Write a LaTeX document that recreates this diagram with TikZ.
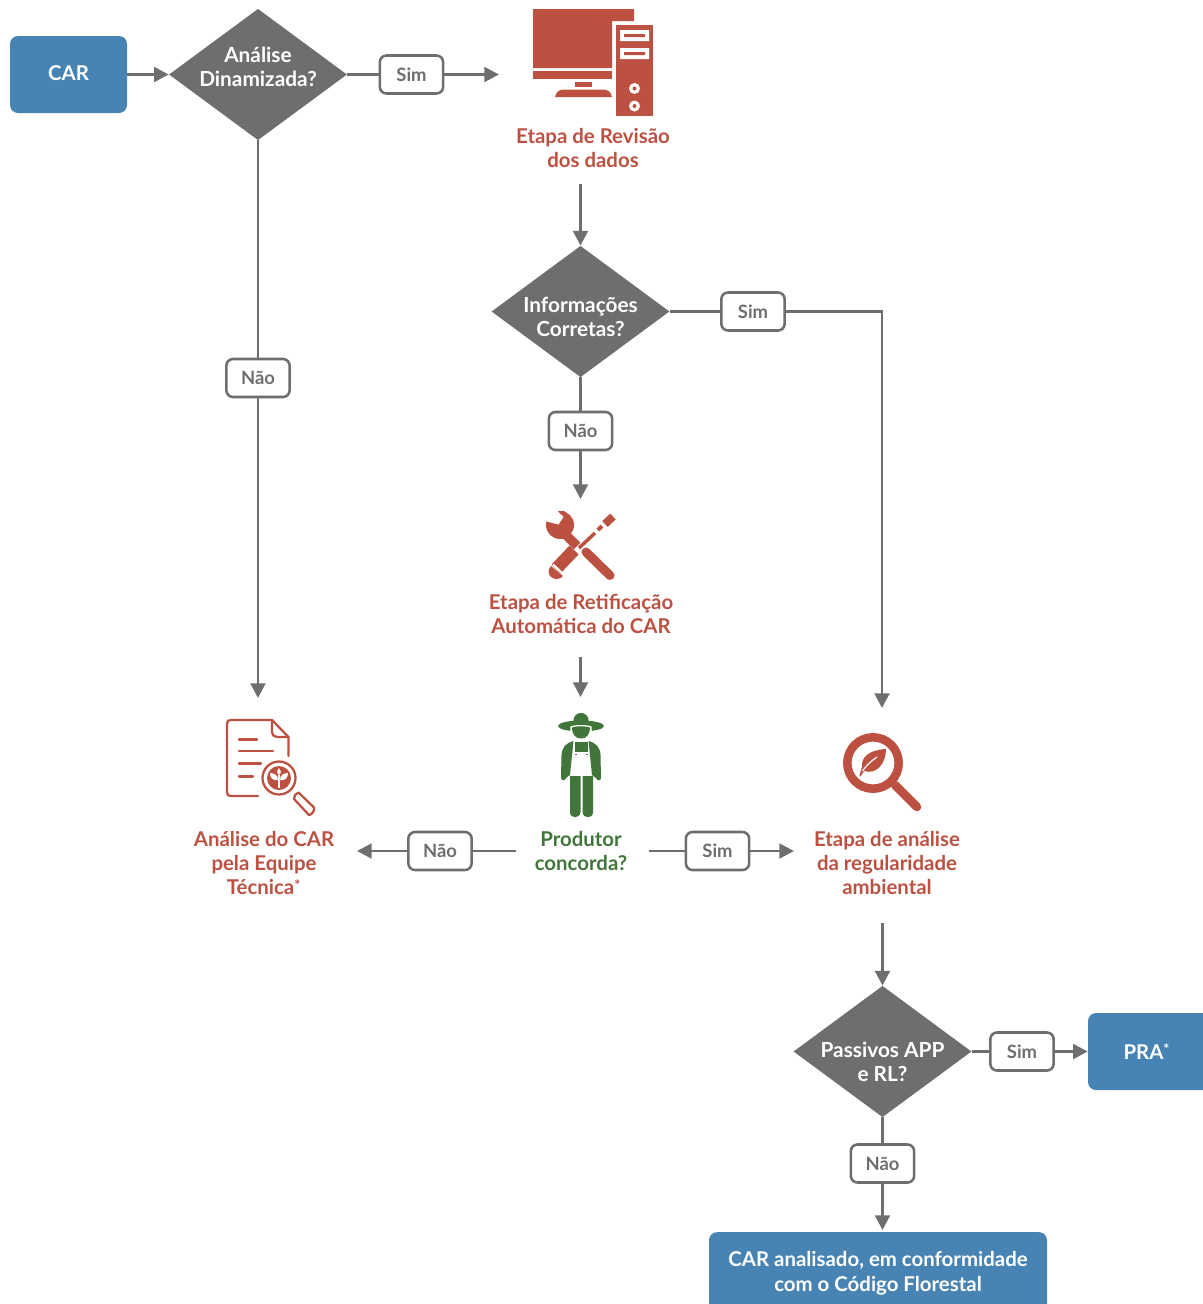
\documentclass[tikz,border=0pt]{standalone}
\usepackage{fontspec}
\setmainfont{Lato}
\usetikzlibrary{arrows.meta,shapes.geometric}
\definecolor{cblue}{HTML}{4784B4}
\definecolor{cgray}{HTML}{6D6E70}
\definecolor{cred}{HTML}{BC5142}
\definecolor{cgreen}{HTML}{41763B}
\newcommand{\starmark}{\textsuperscript{\raisebox{-2pt}{*}}}
\tikzset{
  x=0.75pt,y=-0.75pt,
  txt/.style={font=\fontsize{15.3}{18}\selectfont\bfseries,align=center,inner sep=0pt},
  capred/.style={txt,text=cred},
  capgreen/.style={txt,text=cgreen},
  bluebox/.style={txt,fill=cblue,text=white,rounded corners=6pt},
  decision/.style 2 args={diamond,fill=cgray,inner sep=0pt,aspect=1.35,minimum width=133.5pt,minimum height=98.5pt,
    label={[txt,font=\fontsize{15.6}{18}\selectfont\bfseries,text=white,yshift=#2]center:{#1}}},
  tag/.style={txt,font=\fontsize{13.8}{16}\selectfont\bfseries,text=cgray,fill=white,draw=cgray,line width=1.9pt,rounded corners=5pt,minimum width=47.5pt,minimum height=28.5pt},
  conn/.style={draw=cgray,line width=2.2pt},
  arr/.style={conn,-{Triangle[length=11pt,width=11pt]}},
}
\begin{document}
\begin{tikzpicture}
\useasboundingbox (0,0) rectangle (1203,1304);
\clip (0,0) rectangle (1203,1304);

% boxes
\node[bluebox,minimum width=87.75pt,minimum height=57.75pt] (car) at (68.5,74.5) {\raisebox{1.5pt}{CAR}};
\node[bluebox,minimum width=92.25pt,minimum height=57.75pt] (pra) at (1149.5,1051.5) {PRA\starmark\hspace*{4pt}};
\node[bluebox,minimum width=253.5pt,minimum height=62pt] (fim) at (878,1273.5) {CAR analisado, em conformidade\\[0.6pt]com o Código Florestal};

% decisions
\node[decision={Análise\\Dinamizada?}{5.6pt}] (d1) at (258,74.5) {};
\node[decision={Informações\\Corretas?}{-4.1pt}] (d2) at (580.5,311.5) {};
\node[decision={Passivos APP\\e RL?}{-7.5pt}] (d3) at (882.5,1051.5) {};

% captions
\node[capred] (rev) at (593,148) {Etapa de Revisão\\dos dados};
\node[capred] (ret) at (581,614) {Etapa de Retificação\\Automática do CAR};
\node[capred] (tec) at (264,863) {Análise do CAR\\pela Equipe\\Técnica\starmark};
\node[capred] (reg) at (887,863) {Etapa de análise\\da regularidade\\ambiental};
\node[capgreen] (prod) at (581,851) {Produtor\\concorda?};

% connector ends
\coordinate (a1) at (499,74.5);
\coordinate (a2s) at (580.5,184);
\coordinate (a3) at (882,708);
\coordinate (a3k) at (882,311.5);
\coordinate (a4) at (580.5,499);
\coordinate (a5s) at (580.5,657);
\coordinate (a5) at (580.5,697);
\coordinate (a6) at (258,698);
\coordinate (a7s) at (516,851);
\coordinate (a7) at (357,851);
\coordinate (a8s) at (649,851);
\coordinate (a8) at (794,851);
\coordinate (a9s) at (882.5,923);
\coordinate (a10) at (882.5,1230);

% tags
\node[tag] (s1) at (411.5,74.5) {Sim};
\node[tag] (n1) at (258,378) {Não};
\node[tag] (s2) at (753,311.5) {Sim};
\node[tag] (n2) at (580.5,431) {Não};
\node[tag] (n3) at (440,851) {Não};
\node[tag] (s3) at (717.5,851) {Sim};
\node[tag] (s4) at (1022,1051.5) {Sim};
\node[tag] (n4) at (882.5,1163.5) {Não};

% connectors
\draw[arr] (car.east) -- (d1.west);
\draw[conn] (d1.east) -- (s1.west);
\draw[arr] (s1.east) -- (a1);
\draw[conn] (d1.south) -- (n1.north);
\draw[arr] (n1.south) -- (a6);
\draw[arr] (a2s) -- (d2.north);
\draw[conn] (d2.east) -- (s2.west);
\draw[arr] (s2.east) -- (a3k) -- (a3);
\draw[conn] (d2.south) -- (n2.north);
\draw[arr] (n2.south) -- (a4);
\draw[arr] (a5s) -- (a5);
\draw[conn] (a7s) -- (n3.east);
\draw[arr] (n3.west) -- (a7);
\draw[conn] (a8s) -- (s3.west);
\draw[arr] (s3.east) -- (a8);
\draw[arr] (a9s) -- (d3.north);
\draw[conn] (d3.east) -- (s4.west);
\draw[arr] (s4.east) -- (pra.west);
\draw[conn] (d3.south) -- (n4.north);
\draw[arr] (n4.south) -- (a10);

% computer icon
\fill[cred] (533,9) -- (634,9) -- (634,21) -- (612,21) -- (612,68) -- (533,68) -- cycle;
\fill[cred] (533,71) rectangle (612,79);
\fill[cred] (575,82) rectangle (592,87);
\fill[cred] (555,97) .. controls (556,92) and (559,89.5) .. (564,89.5) -- (603,89.5) .. controls (608,89.5) and (611,92) .. (612,97) -- cycle;
\fill[cred] (616,25) rectangle (653,116);
\fill[white] (620,30) rectangle (649,41) (620,48) rectangle (649,59);
\fill[cred] (624,34) rectangle (645,37) (624,52) rectangle (645,55);
\fill[white] (634.5,88.5) circle[radius=5.5] (634.5,106) circle[radius=5.5];
\fill[cred] (634.5,88.5) circle[radius=2] (634.5,106) circle[radius=2];

% tools icon
\fill[cred] (560,525) circle[radius=14];
\draw[cred,line width=7pt] (562,531) -- (577,546);
\fill[white] (558.5,524.5) -- (545,521) -- (543,508) -- (556,508) -- (564,516) -- cycle;
\fill[cred] (557.5,511) -- (564,511) -- (569.5,516) -- (565,518) -- cycle;
\draw[cred,line width=6.8pt,line cap=round] (586,552) -- (610,575.5);
\draw[cred,line width=9.5pt] (556,569) -- (574,550);
\fill[cred] (551,566) -- (563,576) .. controls (558,581) and (553,579) .. (550,576) .. controls (548,573) and (548,569) .. (551,566) -- cycle;
\draw[white,line width=1.4pt] (553,564.5) -- (564.5,575);
\draw[cred,line width=2.6pt] (579,548) -- (595,533);
\draw[cred,line width=3pt] (598,530) -- (602,526);
\draw[cred,line width=6pt] (605,524) -- (613,516.5);

% farmer icon
\fill[cgreen] (581,726) ellipse[x radius=23,y radius=5.5];
\fill[cgreen] (581,720.5) circle[radius=7.6];
\fill[white] (570.5,726.5) .. controls (575,724.5) and (587,724.5) .. (591.5,726.5) -- (592,735) -- (570,735) -- cycle;
\fill[cgreen] (572,727.5) .. controls (576,725.8) and (586,725.8) .. (590,727.5) .. controls (590,735) and (586,738.5) .. (581,738.5) .. controls (576,738.5) and (572,735) .. (572,727.5) -- cycle;
\fill[cgreen] (573.5,741) .. controls (566,743) and (562,747) .. (561.5,755) -- (561,778) .. controls (561.5,781) and (565,781) .. (566,778) -- (570,775) -- cycle;
\fill[cgreen] (588.5,741) .. controls (596,743) and (600,747) .. (600.5,755) -- (601,778) .. controls (600.5,781) and (597,781) .. (596,778) -- (592,775) -- cycle;
\fill[cgreen] (575,741.5) rectangle (587.5,752);
\fill[cgreen] (570,776) -- (580.5,776) -- (580.5,812) .. controls (580,819) and (570,819) .. (570,812) -- cycle;
\fill[cgreen] (582.5,776) -- (593,776) -- (593,812) .. controls (593,819) and (583,819) .. (582.5,812) -- cycle;
\draw[cgreen,line width=.8pt] (574.5,754.5) -- (577,754.5) (585.5,754.5) -- (588,754.5);

% document icon
\begin{scope}[cred,line width=1.7pt,line cap=round,line join=round]
\draw (258,796) -- (231,796) .. controls (228,796) and (227,795) .. (227,792) -- (227,724) .. controls (227,721) and (228,720) .. (231,720) -- (272,720) -- (288.5,737) -- (288.5,756);
\draw (272,720) -- (272,732) .. controls (272,735) and (274,737) .. (277,737) -- (288.5,737);
\draw (239,739.5) -- (257,739.5) (239,751) -- (273,751) (239,763.5) -- (261,763.5) (239,776.5) -- (253,776.5);
\draw (279,778) circle[radius=16.5];
\draw (295,795) -- (298.5,792.5) -- (314,807.5) .. controls (315,810) and (312,815) .. (309,815) -- (294,799) -- cycle;
\end{scope}
\fill[cred] (279,778) circle[radius=12];
\fill[white] (278,780) .. controls (273,781) and (270,778) .. (270,773) .. controls (274,773) and (278,775) .. (278,780) -- cycle;
\fill[white] (280,780) .. controls (285,781) and (288,778) .. (288,773) .. controls (284,773) and (280,775) .. (280,780) -- cycle;
\fill[white] (279,775) .. controls (276,773) and (277,770) .. (279,768) .. controls (281,770) and (282,773) .. (279,775) -- cycle;
\draw[white,line width=.8pt] (279,775) -- (279,788);

% magnifier icon
\draw[cred,line width=6.4pt] (873,763) circle[radius=25.7];
\draw[cred,line width=6.4pt,line cap=round] (895,785) -- (917,807);
\fill[cred] (862,767) .. controls (861,757) and (869,750) .. (886,749) .. controls (886,763) and (877,775) .. (864,771) -- (860.5,776.5) -- (859.5,775.5) -- cycle;
\draw[white,line width=.9pt] (862.5,771) .. controls (866,766) and (871,761) .. (877,757);
\end{tikzpicture}
\end{document}
